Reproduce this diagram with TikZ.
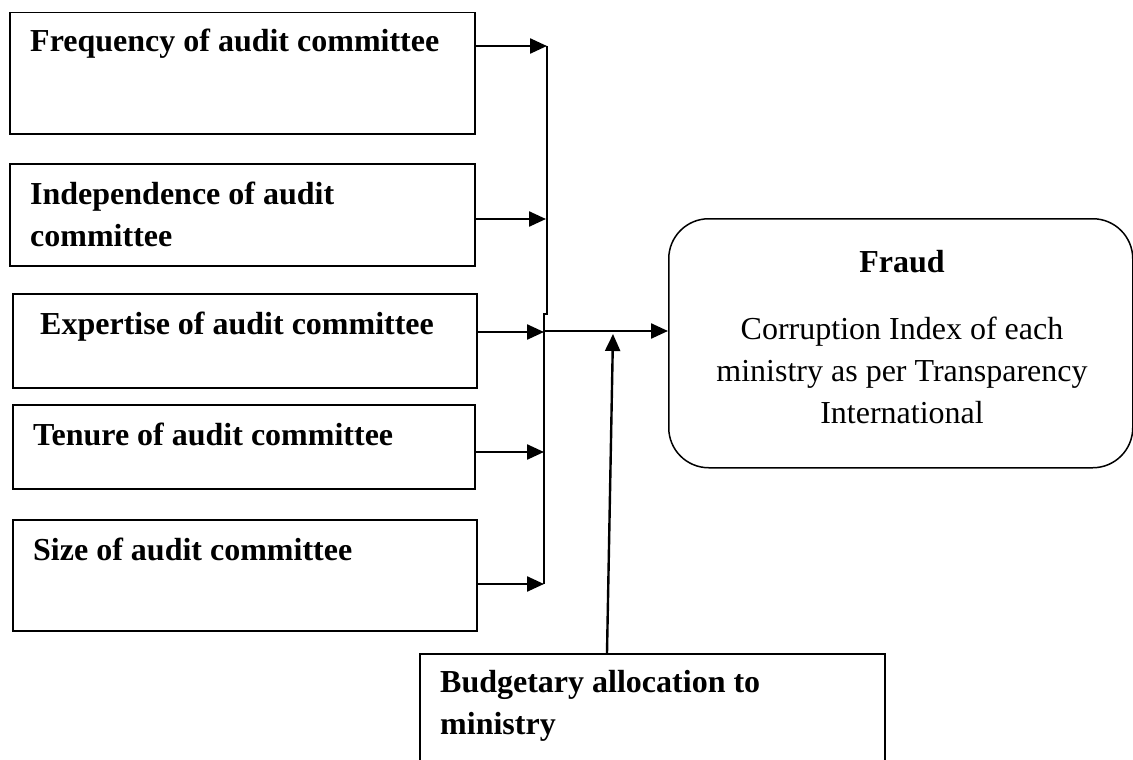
\documentclass[tikz,border=0pt]{standalone}
\usepackage{fontspec}
\setmainfont{Liberation Serif}
\usetikzlibrary{arrows.meta, calc}

\begin{document}
\begin{tikzpicture}[x=1pt, y=-1pt,
  varbox/.style={draw, line width=1.5pt, anchor=north west, inner sep=0pt},
  vartext/.style={anchor=base west, inner sep=0pt, align=left,
    font=\fontsize{32}{42}\selectfont\bfseries},
  flow/.style={line width=2.4pt, -{Triangle[length=17pt,width=15pt]}}]

  \useasboundingbox (0,0) rectangle (1133,760);

  % Draw the audit committee boxes
  \node[varbox, minimum width=465pt, minimum height=121pt] (freq) at (9,12) {};
  \node[varbox, minimum width=465pt, minimum height=102pt] (indep) at (9,163) {};
  \node[varbox, minimum width=464pt, minimum height=94pt] (expert) at (12,293) {};
  \node[varbox, minimum width=462pt, minimum height=84pt] (tenure) at (12,404) {};
  \node[varbox, minimum width=464pt, minimum height=111pt] (size) at (12,519) {};

  % Label the boxes (base of a wrapped text is its last line)
  \node[vartext] (freqtxt) at ($(freq.north west)+(21,40)$) {Frequency of audit committee};
  \node[vartext] (indeptxt) at ($(indep.north west)+(21,83)$) {Independence of audit\\committee};
  \node[vartext] (experttxt) at ($(expert.north west)+(28,41)$) {Expertise of audit committee};
  \node[vartext] (tenuretxt) at ($(tenure.north west)+(21,41)$) {Tenure of audit committee};
  \node[vartext] (sizetxt) at ($(size.north west)+(21,41)$) {Size of audit committee};

  % Draw the Fraud box
  \node[varbox, rounded corners=40pt, minimum width=464pt, minimum height=249pt] (fraud) at (668,218) {};
  \node[anchor=base, inner sep=0pt, font=\fontsize{32}{42}\selectfont\bfseries] (fraudtitle) at (902,272) {Fraud};
  \node[anchor=base, inner sep=0pt, align=center, font=\fontsize{32}{42}\selectfont] (fraudtxt) at (902,423)
    {Corruption Index of each\\ministry as per Transparency\\International};

  % Draw the budget box
  \node[varbox, minimum width=465pt, minimum height=130pt] (budget) at (419,653) {};
  \node[vartext] (budgettxt) at ($(budget.north west)+(21,81)$) {Budgetary allocation to\\ministry};

  % Points on the collecting line
  \coordinate (b1) at (547,46);
  \coordinate (b2) at (546,219);
  \coordinate (jog) at (547,314);
  \coordinate (b3) at (544,332);
  \coordinate (b4) at (544,452);
  \coordinate (b5) at (544,584);
  \coordinate (join) at (545,331);
  \coordinate (meet) at (613,334);

  % Draw the collecting line
  \draw[line width=2.2pt] (b1) -- (jog) -- ++(-3,0) -- (544,584);

  % Draw the arrows
  \draw[flow] (freq.east |- b1) -- (b1);
  \draw[flow] (indep.east |- b2) -- (b2);
  \draw[flow] (expert.east |- b3) -- (b3);
  \draw[flow] (tenure.east |- b4) -- (b4);
  \draw[flow] (size.east |- b5) -- (b5);
  \draw[flow] (join) -- (fraud.west |- join);
  \draw[flow] ($(budget.north west)+(188,0)$) -- (meet);

\end{tikzpicture}
\end{document}
